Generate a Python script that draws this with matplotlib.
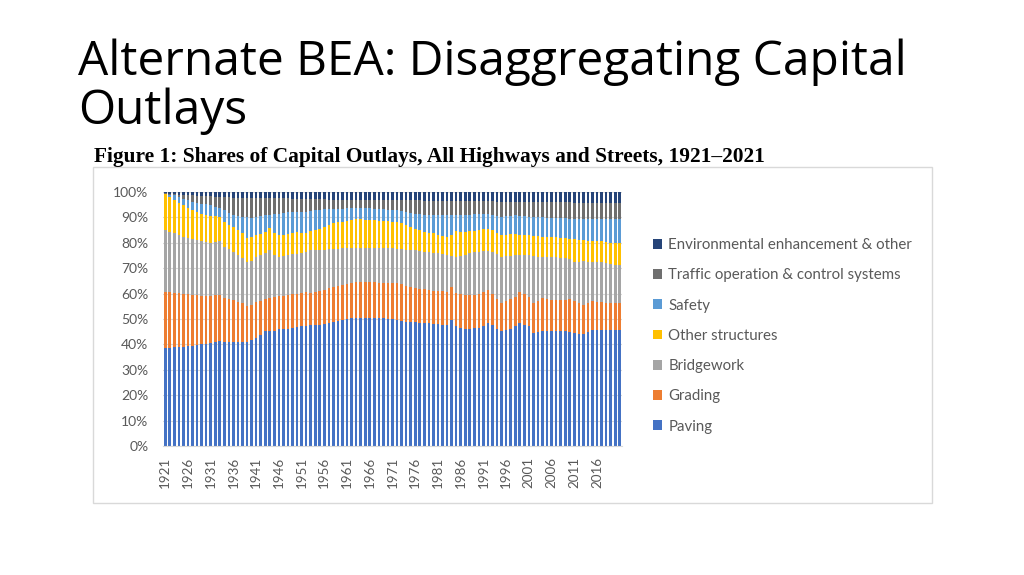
import matplotlib
matplotlib.use("Agg")
import matplotlib.pyplot as plt
from matplotlib.patches import Rectangle, Patch
from matplotlib.ticker import FuncFormatter

# ------------------------- DATA (shares, %) -------------------------
years = list(range(1921, 2022))

paving = [38.6, 38.7, 38.8, 38.9, 39.0, 39.2, 39.4, 39.7, 40.0, 40.3,
          40.5, 41.0, 41.4, 40.8, 40.9, 40.9, 40.9, 40.8, 40.8, 41.6,
          42.5, 43.8, 45.1, 45.2, 45.4, 46.0, 46.0, 46.0, 46.5, 47.0,
          47.1, 47.3, 47.5, 47.6, 47.7, 48.0, 48.5, 48.8, 49.2, 49.7,
          50.0, 50.2, 50.3, 50.3, 50.3, 50.3, 50.3, 50.3, 50.3, 50.1,
          50.0, 49.7, 49.4, 49.0, 48.9, 48.8, 48.6, 48.4, 48.3, 48.1,
          48.0, 47.8, 47.7, 49.7, 47.1, 46.6, 46.1, 46.2, 46.3, 46.4,
          47.3, 48.4, 47.5, 46.0, 45.1, 45.5, 46.0, 47.1, 48.4, 47.8,
          47.1, 44.4, 44.8, 45.1, 45.2, 45.4, 45.3, 45.2, 45.1, 44.8,
          44.4, 44.2, 44.1, 45.0, 45.8, 45.8, 45.8, 45.8, 45.8, 45.8,
          45.8]
grading = [22.2, 21.9, 21.6, 21.3, 21.0, 20.5, 20.1, 19.6, 19.2, 18.8,
           18.5, 18.3, 18.1, 17.6, 17.1, 16.6, 15.9, 15.4, 14.5, 14.0,
           14.1, 13.4, 12.8, 13.1, 13.4, 13.0, 13.2, 13.5, 13.3, 13.0,
           13.0, 13.2, 12.8, 13.0, 13.3, 13.5, 13.7, 13.9, 13.8, 13.7,
           13.8, 13.9, 14.1, 14.1, 14.1, 14.1, 14.1, 14.0, 14.0, 14.1,
           14.2, 14.4, 14.2, 14.1, 13.7, 13.3, 13.4, 13.4, 13.2, 13.1,
           13.0, 13.1, 13.1, 12.8, 13.0, 13.2, 13.4, 13.4, 13.3, 13.3,
           13.2, 13.0, 12.5, 11.8, 11.1, 11.5, 11.8, 11.7, 12.1, 12.0,
           11.7, 11.8, 12.4, 13.1, 12.6, 12.1, 12.2, 12.3, 12.4, 13.0,
           12.6, 12.0, 11.5, 11.3, 11.1, 11.0, 10.8, 10.6, 10.4, 10.4,
           10.4]
bridgework = [24.2, 23.7, 23.3, 22.8, 22.3, 22.0, 21.8, 21.7, 21.5, 21.3,
              21.1, 21.1, 21.2, 20.0, 19.5, 19.0, 18.5, 17.9, 17.2, 17.2,
              17.9, 18.0, 17.9, 18.8, 16.4, 15.5, 15.6, 15.7, 15.6, 15.6,
              15.9, 16.0, 16.7, 16.5, 16.1, 15.8, 15.3, 14.9, 14.7, 14.4,
              14.0, 13.7, 13.4, 13.4, 13.4, 13.4, 13.4, 13.5, 13.5, 13.6,
              13.6, 13.6, 13.9, 14.2, 14.5, 15.0, 14.8, 14.7, 14.7, 14.8,
              14.8, 14.6, 14.4, 12.5, 14.4, 15.0, 15.7, 16.2, 16.6, 16.8,
              16.1, 15.3, 16.5, 17.7, 18.3, 17.8, 17.2, 16.4, 14.7, 15.4,
              16.4, 18.6, 17.4, 16.3, 16.7, 17.0, 16.8, 16.6, 16.4, 15.7,
              15.5, 16.4, 17.2, 16.3, 15.6, 15.6, 15.7, 15.6, 15.3, 15.1,
              15.0]
other_structures = [14.3, 13.7, 13.0, 12.8, 12.5, 12.1, 11.5, 11.2, 10.8, 10.6,
                    10.5, 10.0, 9.5, 9.8, 9.7, 9.8, 9.7, 9.6, 9.2, 9.6,
                    8.5, 8.4, 8.5, 8.8, 8.5, 8.5, 8.4, 8.1, 8.4, 8.7,
                    8.0, 7.2, 7.6, 7.9, 8.5, 9.0, 9.5, 10.0, 10.3, 10.4,
                    10.8, 11.2, 11.7, 11.5, 11.3, 11.1, 11.0, 10.8, 10.7, 10.6,
                    10.5, 10.5, 10.1, 9.6, 9.1, 8.5, 8.2, 7.8, 7.8, 7.7,
                    7.4, 7.2, 7.2, 8.0, 10.1, 9.6, 9.1, 8.7, 8.6, 8.5,
                    8.7, 8.9, 8.5, 8.5, 8.5, 8.4, 8.3, 8.1, 8.0, 7.9,
                    7.8, 7.8, 7.9, 7.9, 7.9, 7.9, 7.9, 7.8, 7.8, 8.1,
                    8.9, 8.6, 8.2, 8.3, 8.3, 8.3, 8.3, 8.4, 8.6, 8.8,
                    8.9]
safety = [0.1, 1.0, 2.0, 2.2, 2.6, 2.9, 3.4, 3.6, 3.9, 4.1,
          4.2, 3.8, 3.4, 4.6, 4.6, 4.5, 5.5, 6.5, 8.3, 7.4,
          7.2, 6.9, 6.5, 5.1, 7.5, 8.5, 8.5, 8.7, 8.4, 7.9,
          8.2, 8.5, 7.9, 7.8, 7.4, 6.9, 6.3, 5.8, 5.5, 5.3,
          5.0, 4.7, 4.2, 4.4, 4.6, 4.7, 4.7, 4.8, 4.7, 4.6,
          4.6, 4.6, 4.8, 5.1, 5.5, 5.9, 6.3, 6.8, 7.0, 7.2,
          7.6, 8.1, 8.4, 7.8, 6.2, 6.5, 6.7, 6.6, 6.4, 6.3,
          6.1, 5.9, 6.0, 6.5, 7.2, 7.2, 7.3, 7.5, 7.4, 7.3,
          7.2, 7.6, 7.6, 7.6, 7.5, 7.4, 7.6, 7.8, 7.9, 7.9,
          8.1, 8.3, 8.5, 8.6, 8.7, 8.7, 8.8, 9.0, 9.2, 9.2,
          9.2]
traffic = [0.2, 0.4, 0.5, 1.0, 1.5, 2.1, 2.5, 2.8, 3.1, 3.3,
           3.5, 4.0, 4.5, 5.2, 6.1, 7.0, 7.3, 7.6, 7.8, 7.9,
           7.5, 7.2, 6.8, 6.6, 6.4, 6.0, 5.8, 5.5, 5.2, 5.2,
           5.1, 5.1, 4.7, 4.4, 4.1, 3.9, 3.7, 3.6, 3.5, 3.5,
           3.4, 3.3, 3.3, 3.3, 3.2, 3.3, 3.4, 3.5, 3.7, 3.8,
           3.9, 4.0, 4.4, 4.7, 5.0, 5.2, 5.4, 5.5, 5.6, 5.7,
           5.8, 5.7, 5.7, 5.7, 5.7, 5.5, 5.4, 5.3, 5.2, 5.0,
           4.9, 4.8, 5.3, 5.7, 6.0, 5.8, 5.6, 5.3, 5.5, 5.7,
           5.9, 5.8, 5.9, 6.0, 6.1, 6.2, 6.1, 6.2, 6.3, 6.4,
           6.3, 6.3, 6.3, 6.3, 6.3, 6.3, 6.3, 6.3, 6.4, 6.3,
           6.3]
environmental = [0.4, 0.6, 0.8, 1.0, 1.1, 1.2, 1.3, 1.4, 1.5, 1.6,
                 1.7, 1.8, 1.9, 2.0, 2.1, 2.2, 2.2, 2.2, 2.2, 2.3,
                 2.3, 2.3, 2.4, 2.4, 2.4, 2.5, 2.5, 2.5, 2.6, 2.6,
                 2.7, 2.7, 2.8, 2.8, 2.9, 2.9, 3.0, 3.0, 3.0, 3.0,
                 3.0, 3.0, 3.0, 3.0, 3.1, 3.1, 3.1, 3.1, 3.1, 3.2,
                 3.2, 3.2, 3.2, 3.3, 3.3, 3.3, 3.3, 3.4, 3.4, 3.4,
                 3.4, 3.5, 3.5, 3.5, 3.5, 3.6, 3.6, 3.6, 3.6, 3.7,
                 3.7, 3.7, 3.7, 3.8, 3.8, 3.8, 3.8, 3.9, 3.9, 3.9,
                 3.9, 4.0, 4.0, 4.0, 4.0, 4.0, 4.1, 4.1, 4.1, 4.1,
                 4.2, 4.2, 4.2, 4.2, 4.2, 4.3, 4.3, 4.3, 4.3, 4.4,
                 4.4]

series_names = ["Paving", "Grading", "Bridgework", "Other structures", "Safety",
                "Traffic operation & control systems", "Environmental enhancement & other"]
series_values = [paving, grading, bridgework, other_structures, safety, traffic, environmental]
colors = ["#4472C4", "#ED7D31", "#A5A5A5", "#FFC000", "#5B9BD5", "#6F6F6F", "#264478"]

# tick labels every 5 years (the last year is not labelled in the original)
tick_years = list(range(1921, 2017, 5))

# ------------------------- FIGURE -------------------------
fig = plt.figure(figsize=(10.24, 5.75), dpi=100)

fig.text(78 / 1024, 1 - 39 / 575, "Alternate BEA: Disaggregating Capital\nOutlays",
         fontsize=34.5, family="Open Sans", va="top", ha="left", color="black",
         linespacing=1.04)
fig.text(94 / 1024, 1 - 162 / 575,
         "Figure 1: Shares of Capital Outlays, All Highways and Streets, 1921\u20132021",
         fontsize=15.4, family="Liberation Serif", weight="bold", va="baseline", ha="left")

# chart frame
fig.patches.append(Rectangle((93 / 1024, 1 - 503 / 575), 839 / 1024, 336 / 575,
                             transform=fig.transFigure, facecolor="white",
                             edgecolor="#D9D9D9", linewidth=1.0, zorder=-1))

ax = fig.add_axes([163 / 1024, 1 - 446 / 575, 459 / 1024, 254 / 575])
ax.set_zorder(2)
ax.set_facecolor("none")

x = list(range(len(years)))
totals = [sum(v[i] for v in series_values) for i in x]
bottom = [0.0] * len(years)
for name, vals, col in zip(series_names, series_values, colors):
    share = [v / t for v, t in zip(vals, totals)]
    ax.bar(x, share, bottom=bottom, width=0.58, color=col, label=name, zorder=2)
    bottom = [b + s for b, s in zip(bottom, share)]

ax.set_xlim(-0.5, len(years) - 0.5)
ax.set_ylim(0, 1)
ax.set_yticks([i / 10 for i in range(11)])
ax.yaxis.set_major_formatter(FuncFormatter(lambda v, p: f"{v:.0%}"))
ax.set_xticks([years.index(y) for y in tick_years])
ax.set_xticklabels([str(y) for y in tick_years], rotation=90)
ax.grid(axis="y", color="#D9D9D9", linewidth=0.8, zorder=0)
for s in ["top", "right", "left"]:
    ax.spines[s].set_visible(False)
ax.spines["bottom"].set_color("#D9D9D9")
ax.tick_params(axis="both", length=0, labelcolor="#595959")
ax.tick_params(axis="y", pad=10.5, labelsize=10)
ax.tick_params(axis="x", pad=8, labelsize=9.6)
for lab in ax.get_xticklabels() + ax.get_yticklabels():
    lab.set_family("Lato")

handles = [Patch(facecolor=c, edgecolor="none") for c in colors][::-1]
fig.legend(handles, series_names[::-1], loc="upper left",
           bbox_to_anchor=(647 / 1024, 1 - 232 / 575), frameon=False,
           prop={"family": "Lato", "size": 10.85}, labelcolor="#595959",
           handlelength=0.62, handleheight=0.62, handletextpad=0.4,
           labelspacing=1.08, borderaxespad=0)

fig.savefig("out.png", dpi=100, facecolor="white")
